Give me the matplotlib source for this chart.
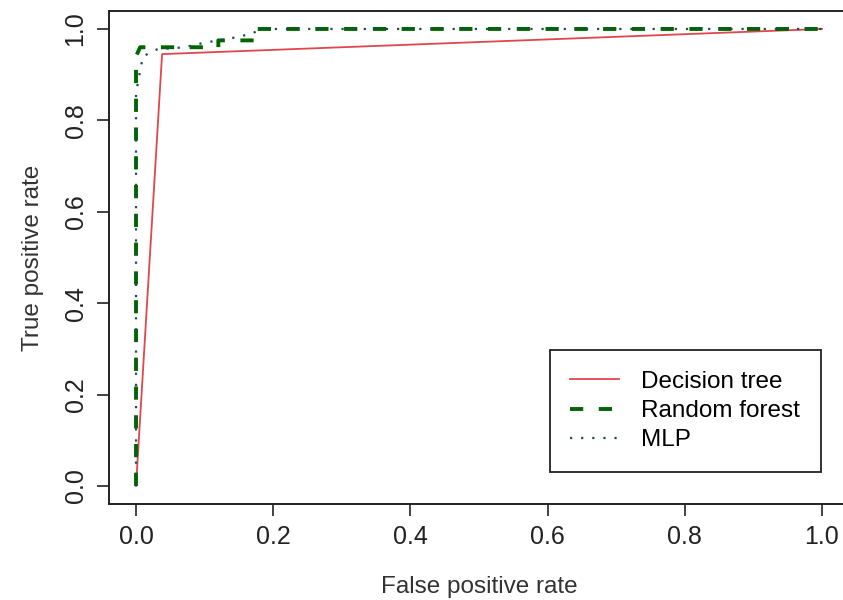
import numpy as np
import matplotlib.pyplot as plt

# ROC curves
tree_fpr = [0.0, 0.038, 1.0]
tree_tpr = [0.0, 0.945, 1.0]

forest_fpr = [0.0, 0.0, 0.006, 0.12, 0.12, 0.176, 0.176, 1.0]
forest_tpr = [0.0, 0.94, 0.96, 0.96, 0.975, 0.975, 1.0, 1.0]

mlp_fpr = [0.0, 0.0, 0.01, 0.03, 0.07, 0.1, 0.14, 0.17, 0.18, 1.0]
mlp_tpr = [0.0, 0.86, 0.94, 0.955, 0.96, 0.97, 0.98, 0.99, 1.0, 1.0]

xticks = [0.0, 0.2, 0.4, 0.6, 0.8, 1.0]
yticks = [0.0, 0.2, 0.4, 0.6, 0.8, 1.0]

plt.rcParams['font.family'] = ['Liberation Sans', 'DejaVu Sans']

fig = plt.figure(figsize=(8.43, 6.0), dpi=100)
ax = fig.add_axes([0.1288, 0.1595, 0.8788, 0.8227])

ax.plot(tree_fpr, tree_tpr, '-', color='#e0474c', lw=1.3, label='Decision tree')
ax.plot(forest_fpr, forest_tpr, '--', color='#006400', lw=2.8, dashes=(3.4, 4),
        label='Random forest')
ax.plot(mlp_fpr, mlp_tpr, ':', color='#1e4b5a', lw=1.6, dashes=(1, 4),
        label='MLP')

ax.set_xlim(-0.04, 1.04)
ax.set_ylim(-0.04, 1.04)
ax.set_xticks(xticks)
ax.set_yticks(yticks)
ax.set_xticklabels(['%.1f' % v for v in xticks])
ax.set_yticklabels(['%.1f' % v for v in yticks], rotation=90, va='center')
ax.tick_params(direction='out', length=8.6, width=1.2, labelsize=18,
               colors='#222222', pad=6.5)
for s in ax.spines.values():
    s.set_linewidth(1.4)
    s.set_color('#222222')

ax.set_xlabel('False positive rate', fontsize=17.5, color='#333333', labelpad=19)
ax.set_ylabel('True positive rate', fontsize=17.5, color='#333333', labelpad=14)

leg = ax.legend(loc='lower right', bbox_to_anchor=(0.961, 0.0654),
                borderaxespad=0, fontsize=17.5, fancybox=False,
                framealpha=1, edgecolor='#222222', handlelength=2.0,
                labelspacing=0.3, borderpad=0.85, handletextpad=0.9)
leg.get_frame().set_linewidth(1.3)

fig.savefig('out.png', dpi=100)
